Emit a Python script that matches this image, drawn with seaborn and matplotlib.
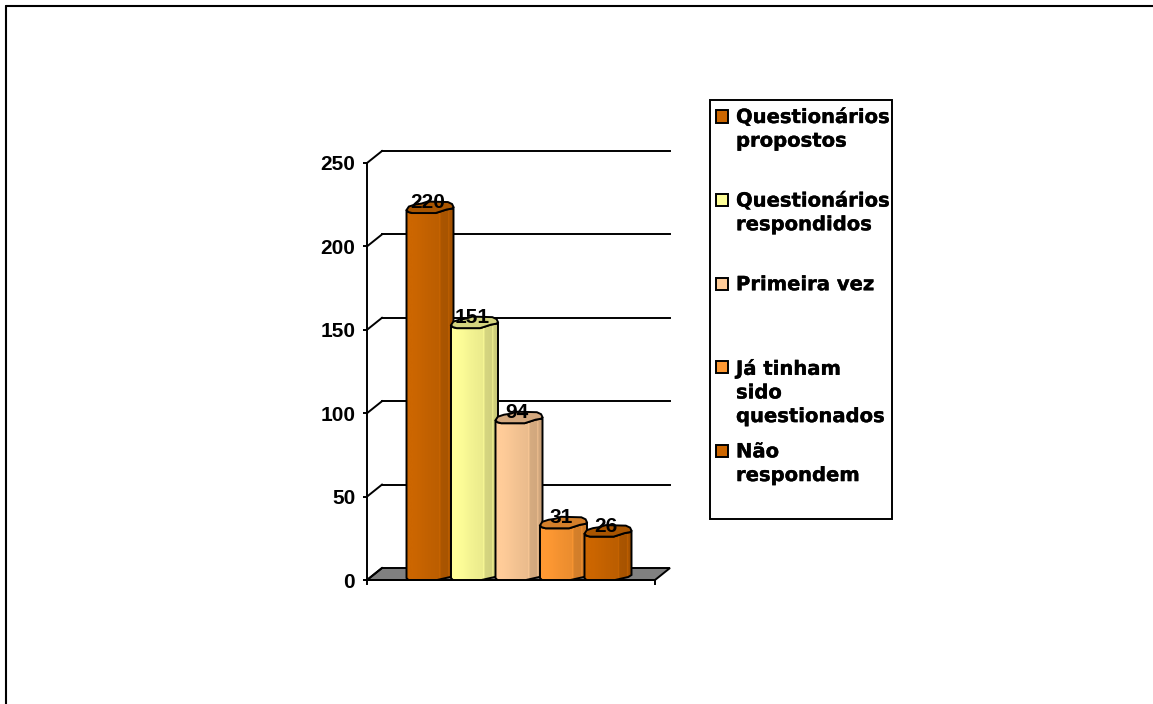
import numpy as np
import pandas as pd
import matplotlib.pyplot as plt
import matplotlib.patheffects as pe
from matplotlib.colors import LinearSegmentedColormap, to_rgb
from matplotlib.patches import Polygon, Rectangle
from matplotlib.lines import Line2D
import seaborn as sns

categories = ["Questionários\npropostos", "Questionários\nrespondidos", "Primeira vez",
              "Já tinham\nsido\nquestionados", "Não\nrespondem"]
values = [220, 151, 94, 31, 26]
colors = ["#CC6600", "#FFFF99", "#FFCC99", "#FF9933", "#CC6600"]
y_ticks = [0, 50, 100, 150, 200, 250]

W, H = 1153, 704
PX_PER_CAT = 44.5
PX_PER_VAL = 1.668
DEPTH_X = 15 / PX_PER_CAT
DEPTH_Y = 12 / PX_PER_VAL
FONT = 15
LEGEND_FONT = 14.1
LW = 1.4

# outline of the cylinders: (fraction of bar width, pixels from reference level)
CAP_FRONT = [(0, 3), (0.04, 1), (0.12, 0), (0.62, 0), (0.72, 1.5), (0.85, 3.5), (0.97, 4.5), (1, 6)]
CAP_BACK = [(0.97, 9), (0.88, 11), (0.45, 11.5), (0.32, 9.5), (0.18, 8.5), (0.05, 6.5)]
BOTTOM = [(1, 5), (0.93, 3), (0.65, 0), (0.04, 0), (0, 2)]

sns.set_theme(style="white")
plt.rcParams["font.family"] = "DejaVu Sans"
plt.rcParams["font.weight"] = "bold"

fig = plt.figure(figsize=(W / 100, H / 100), dpi=100)
ax = fig.add_axes([367 / W, 1 - 580 / H, (670 - 367) / W, (580 - 151) / H])

df = pd.DataFrame({"categoria": categories, "valor": values})
sns.barplot(data=df, x="categoria", y="valor", hue="categoria", palette=colors,
            saturation=1, width=47 / PX_PER_CAT, dodge=False, legend=False, ax=ax)

xmin, xmax = (367 - 430) / PX_PER_CAT, (670 - 430) / PX_PER_CAT
xfront = xmax - DEPTH_X
ymax = (580 - 151) / PX_PER_VAL
line = dict(color="black", lw=LW, solid_capstyle="projecting")

# floor and walls
ax.add_patch(Polygon([(xmin, 0), (xmin + DEPTH_X, DEPTH_Y), (xmax, DEPTH_Y), (xfront, 0)],
                     closed=True, fc="#808080", ec="black", lw=LW, zorder=0.5, clip_on=False))
for t in y_ticks[1:]:
    ax.plot([xmin + DEPTH_X, xmax], [t + DEPTH_Y, t + DEPTH_Y], zorder=0.6, clip_on=False, **line)
for t in y_ticks:
    ax.plot([xmin, xmin + DEPTH_X], [t, t + DEPTH_Y], zorder=0.6, clip_on=False, **line)
for x in (xmin, xfront):
    ax.plot([x, x], [0, -4 / PX_PER_VAL], clip_on=False, **line)

# cylinders on top of the seaborn bars
bars = [p for p in ax.patches if isinstance(p, Rectangle)][:len(values)]
bars = sorted(bars, key=lambda p: p.get_x())
for i, (bar, col) in enumerate(zip(bars, colors)):
    x0, w, top = bar.get_x(), bar.get_width(), bar.get_height()
    z = 2 + i
    rgb = np.array(to_rgb(col))
    body_pts = [(x0 + w * f, top + d / PX_PER_VAL) for f, d in CAP_FRONT]
    body_pts += [(x0 + w * f, d / PX_PER_VAL) for f, d in BOTTOM]
    cap_pts = [(x0 + w * f, top + d / PX_PER_VAL) for f, d in CAP_FRONT + CAP_BACK]

    body = Polygon(body_pts, closed=True, fc="none", ec="black", lw=LW, zorder=z + 0.2)
    ax.add_patch(body)
    bar.set_zorder(z)
    bar.set_edgecolor("none")
    bar.set_clip_path(body)

    cmap = LinearSegmentedColormap.from_list("cyl", [
        (0, rgb), (0.15, rgb), (0.45, rgb * 0.95), (0.68, rgb * 0.92), (0.7, rgb * 1.0), (0.72, rgb * 0.84),
        (0.87, rgb * 0.82), (0.89, rgb * 0.96), (0.91, rgb * 0.82), (1, rgb * 0.78)])
    img = ax.imshow(np.linspace(0, 1, 256)[None, :], cmap=cmap, aspect="auto",
                    extent=(x0, x0 + w, 0, top + 8 / PX_PER_VAL), zorder=z + 0.1)
    img.set_clip_path(body)

    ax.add_patch(Polygon(cap_pts, closed=True, fc=rgb * 0.83, ec="black", lw=LW, zorder=z + 0.3))

for bar, v in zip(bars, values):
    ax.annotate(str(v), (bar.get_x() + bar.get_width() / 2, bar.get_height()),
                xytext=(-2.5 * 0.72, 10.5 * 0.72), textcoords="offset points",
                ha="center", va="center", fontsize=FONT, fontweight="bold",
                fontfamily="Liberation Sans", color="black", zorder=20, annotation_clip=False)

ax.set_xlim(xmin, xmax)
ax.set_ylim(0, ymax)
ax.set_xlabel("")
ax.set_ylabel("")
ax.set_xticks([])
ax.set_yticks(y_ticks)
ax.tick_params(axis="y", left=True, length=3, width=LW, color="black", labelcolor="black",
               pad=5.5, labelsize=FONT)
for lab in ax.get_yticklabels():
    lab.set_fontfamily("Liberation Sans")
    lab.set_fontweight("bold")
sns.despine(ax=ax, top=True, right=True)
ax.spines["left"].set_bounds(0, 250)
ax.spines["bottom"].set_bounds(xmin, xfront)
for s in ("left", "bottom"):
    ax.spines[s].set_color("black")
    ax.spines[s].set_linewidth(LW)
ax.patch.set_alpha(0)

# legend box, entries sit at a fixed step
fig.add_artist(Rectangle((710 / W, 1 - 519 / H), 182 / W, 419 / H, transform=fig.transFigure,
                         fc="white", ec="black", lw=LW, zorder=1))
for i, (label, col) in enumerate(zip(categories, colors)):
    yc = 116.5 + i * 83.6
    fig.add_artist(Rectangle((716 / W, 1 - (yc + 6) / H), 12 / W, 12 / H, transform=fig.transFigure,
                             fc=col, ec="black", lw=LW, zorder=2))
    txt = fig.text(736 / W, 1 - (yc - 8.5) / H, label, fontsize=LEGEND_FONT, fontweight="bold", color="black",
                   va="top", ha="left", linespacing=1.31, zorder=3)
    txt.set_path_effects([pe.withStroke(linewidth=0.25, foreground="black")])

# outer frame, only top and left show
fig.add_artist(Line2D([6 / W, 6 / W], [0, 1 - 6 / H], color="black", lw=1.5, transform=fig.transFigure))
fig.add_artist(Line2D([6 / W, 1], [1 - 6 / H, 1 - 6 / H], color="black", lw=1.5, transform=fig.transFigure))

fig.savefig("out.png", dpi=100, facecolor="white")
